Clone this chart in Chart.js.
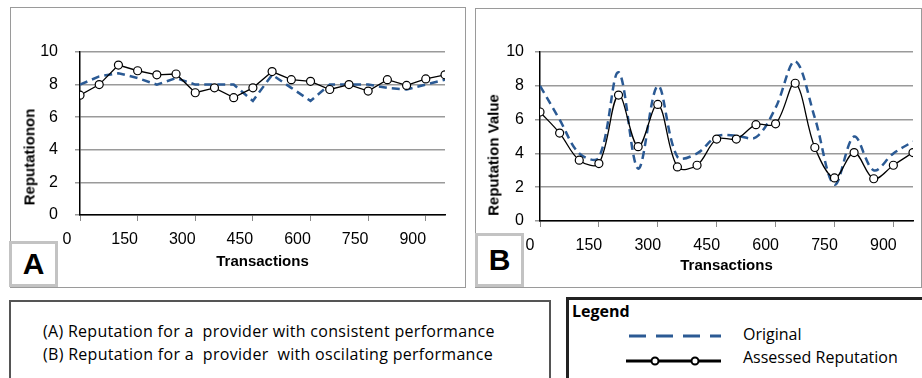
<!DOCTYPE html>
<html>
<head>
<meta charset="utf-8">
<script src="https://cdn.jsdelivr.net/npm/chart.js@4"></script>
<style>
  body { margin: 0; width: 922px; height: 378px; background: #fff; overflow: hidden; position: relative; font-family: "Liberation Sans", Arial, sans-serif; }
  .panel { position: absolute; box-sizing: border-box; border: 1px solid #9a9a9a; }
  canvas { position: absolute; }
  .tag { position: absolute; box-sizing: border-box; border: 3px solid #c3c3c3; background: #fff;
         font: bold 30px "Liberation Sans", Arial, sans-serif; display: flex; align-items: center; justify-content: center; }
  .ytitle { position: absolute; font: bold 15px "Liberation Sans", Arial, sans-serif; white-space: nowrap;
            transform: translate(-50%, -50%) rotate(-90deg); }
  .txt { position: absolute; font-family: "Open Sans", sans-serif; font-size: 16px; line-height: 16px; white-space: pre; }
</style>
</head>
<body>
<div class="panel" style="left:10px;top:7px;width:456px;height:281px"></div>
<div class="panel" style="left:475px;top:8px;width:447px;height:280px"></div>
<canvas id="chartA" width="455" height="280" style="left:10px;top:8px"></canvas>
<canvas id="chartB" width="447" height="280" style="left:475px;top:8px"></canvas>
<div class="ytitle" style="left:29px;top:157px">Reputationon</div>
<div class="ytitle" style="left:493px;top:155px">Reputation Value</div>
<div class="tag" style="left:9px;top:241px;width:49px;height:46px">A</div>
<div class="tag" style="left:475px;top:233px;width:49px;height:54px">B</div>

<div style="position:absolute;left:9px;top:300px;width:542px;height:100px;box-sizing:border-box;border:2px solid #555"></div>
<div class="txt" style="left:43px;top:322.5px;letter-spacing:0.3px">(A) Reputation for a  provider with consistent performance</div>
<div class="txt" style="left:43px;top:346px;letter-spacing:0.3px">(B) Reputation for a  provider  with oscilating performance</div>

<div style="position:absolute;left:566px;top:297px;width:380px;height:100px;box-sizing:border-box;border:3px solid #222"></div>
<div class="txt" style="left:572px;top:302.5px;font-weight:bold">Legend</div>
<svg style="position:absolute;left:620px;top:325px" width="110" height="45">
  <line x1="9" y1="11" x2="101" y2="11" stroke="#2b5a94" stroke-width="3" stroke-dasharray="17 10"/>
  <line x1="6" y1="36" x2="101" y2="36" stroke="#000" stroke-width="3"/>
  <circle cx="35" cy="36" r="3.5" fill="#fff" stroke="#000" stroke-width="2"/>
  <circle cx="75" cy="36" r="3.5" fill="#fff" stroke="#000" stroke-width="2"/>
</svg>
<div class="txt" style="left:743px;top:326px">Original</div>
<div class="txt" style="left:743px;top:349px">Assessed Reputation</div>

<script>
const transactions = [0, 50, 100, 150, 200, 250, 300, 350, 400, 450, 500, 550, 600, 650, 700, 750, 800, 850, 900, 950];
const xTicks = [0, 150, 300, 450, 600, 750, 900];

const originalA = [8.0, 8.5, 8.7, 8.4, 8.0, 8.4, 8.0, 8.0, 8.0, 7.0, 8.6, 7.8, 7.0, 8.0, 8.0, 8.0, 7.8, 7.7, 8.0, 8.3];
const assessedA = [7.35, 8.0, 9.2, 8.85, 8.6, 8.65, 7.5, 7.8, 7.2, 7.8, 8.8, 8.3, 8.2, 7.7, 8.0, 7.6, 8.3, 7.95, 8.35, 8.6];

const originalB = [8.0, 6.0, 4.0, 3.75, 8.8, 3.1, 8.0, 3.8, 4.0, 5.0, 5.05, 4.95, 6.7, 9.45, 6.1, 2.15, 5.0, 3.0, 4.0, 4.7];
const assessedB = [6.45, 5.2, 3.6, 3.4, 7.45, 4.4, 6.9, 3.2, 3.3, 4.85, 4.85, 5.7, 5.75, 8.15, 4.35, 2.55, 4.05, 2.5, 3.3, 4.05];

const tickFont = { family: '"Liberation Sans", Arial, sans-serif', size: 16 };

function pts(ys) {
    return ys.map((y, i) => ({ x: transactions[i], y: y }));
}

function makeChart(id, original, assessed, cfg) {
    return new Chart(document.getElementById(id), {
        type: 'line',
        data: {
            datasets: [
                {
                    label: 'Assessed Reputation',
                    data: pts(assessed),
                    borderColor: '#000',
                    borderWidth: 1.3,
                    pointRadius: 4,
                    pointBorderWidth: 1.2,
                    pointBorderColor: '#000',
                    pointBackgroundColor: '#fff',
                    tension: cfg.tension
                },
                {
                    label: 'Original',
                    data: pts(original),
                    borderColor: '#2b5a94',
                    borderWidth: 2.5,
                    borderDash: [8, 5],
                    pointRadius: 0,
                    tension: cfg.tension
                }
            ]
        },
        options: {
            responsive: false,
            animation: false,
            layout: { padding: { left: 0, top: cfg.top, right: cfg.right, bottom: 0 } },
            plugins: { legend: { display: false }, tooltip: { enabled: false } },
            scales: {
                x: {
                    type: 'linear',
                    min: 0,
                    max: 950,
                    afterBuildTicks: s => { s.ticks = xTicks.map(v => ({ value: v })); },
                    afterFit: s => { s.height = cfg.xHeight; },
                    border: { color: '#000', width: 1.5 },
                    grid: { drawOnChartArea: false, tickLength: 6, color: '#8a8a8a' },
                    ticks: { font: tickFont, color: '#000', padding: 9, labelOffset: cfg.labelOffset, maxRotation: 0, autoSkip: false },
                    title: {
                        display: true,
                        text: 'Transactions',
                        color: '#000',
                        font: { family: '"Liberation Sans", Arial, sans-serif', size: 15, weight: 'bold' },
                        padding: { top: 0, bottom: cfg.titlePad }
                    }
                },
                y: {
                    min: 0,
                    max: 10,
                    afterFit: s => { s.width = cfg.yWidth; },
                    border: { color: '#000', width: 1.5 },
                    grid: { color: '#9a9a9a', lineWidth: 1.5, tickLength: 5 },
                    ticks: { stepSize: 2, font: tickFont, color: '#000', padding: cfg.yPad }
                }
            }
        }
    });
}

makeChart('chartA', originalA, assessedA, { tension: 0, top: 44, right: 20, xHeight: 73, yWidth: 70, yPad: 17, labelOffset: -13, titlePad: 17 });
makeChart('chartB', originalB, assessedB, { tension: 0.35, top: 44, right: 9, xHeight: 67, yWidth: 65, yPad: 11, labelOffset: -10, titlePad: 13 });
</script>
</body>
</html>
